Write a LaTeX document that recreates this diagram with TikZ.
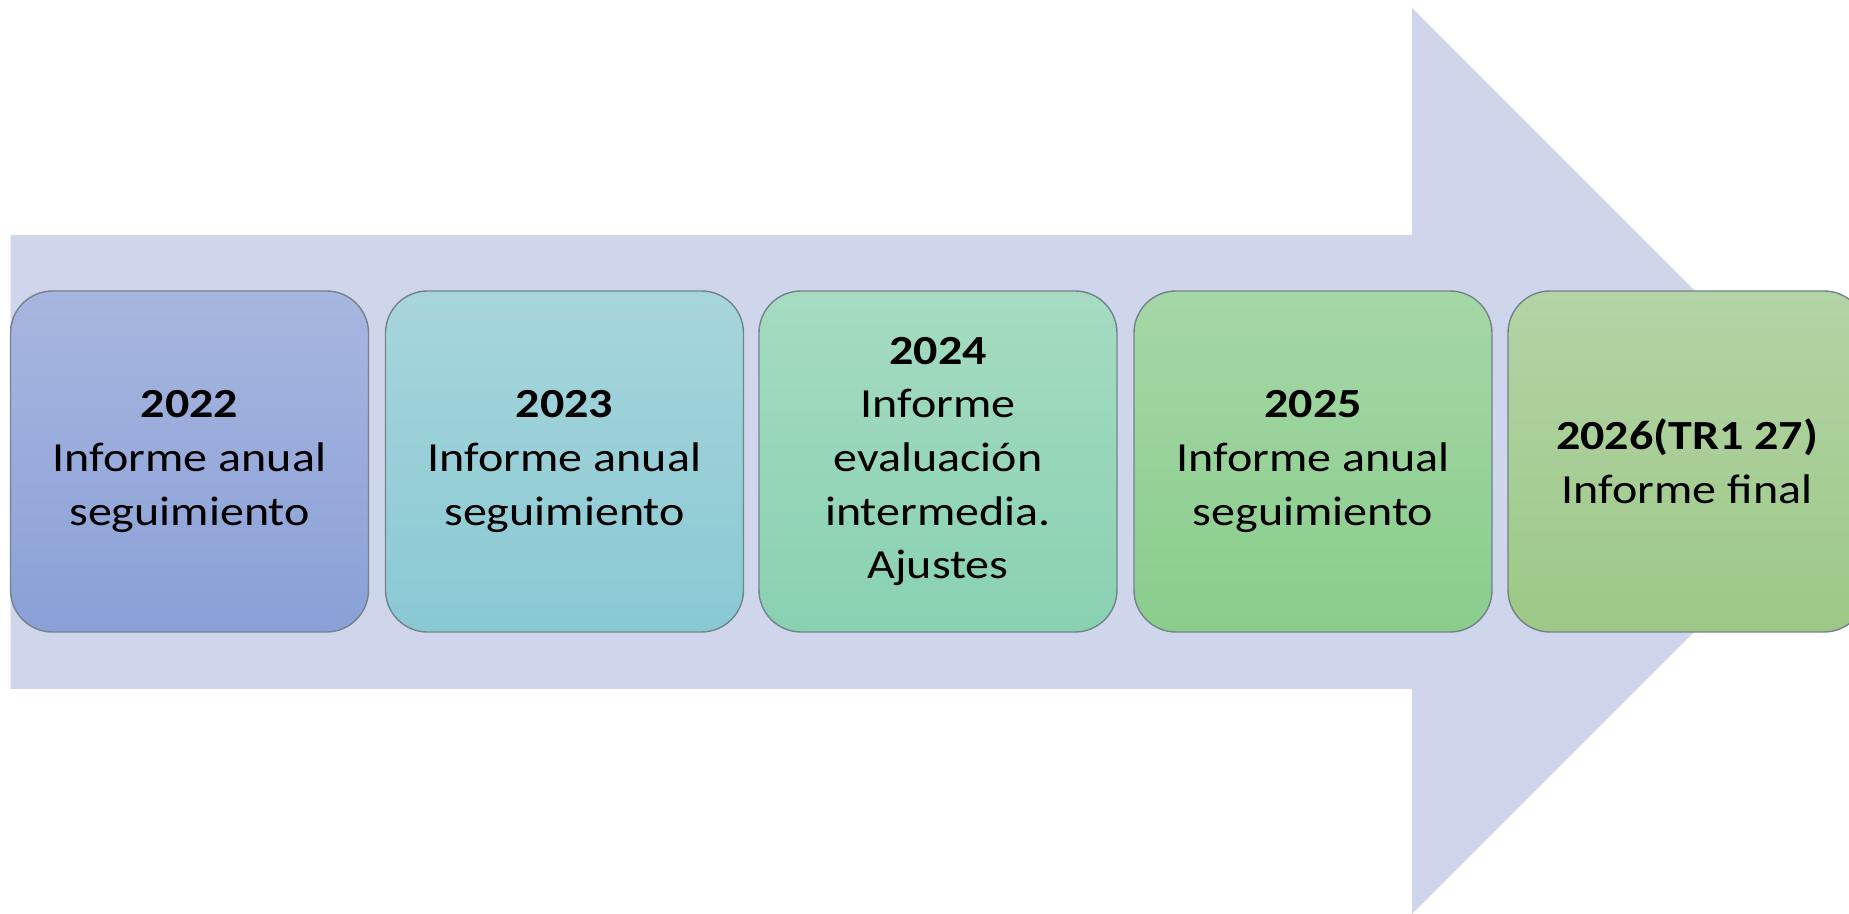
\documentclass[tikz,border=0pt]{standalone}
\usepackage{fontspec}
\setmainfont{Carlito}[FakeStretch=1.16]
\definecolor{arrowfill}{HTML}{CFD5EA}
\definecolor{boxline}{HTML}{72838A}
\definecolor{aTop}{HTML}{A7B6DF}\definecolor{aBot}{HTML}{8AA0D7}
\definecolor{bTop}{HTML}{A7D5DC}\definecolor{bBot}{HTML}{89C9D3}
\definecolor{cTop}{HTML}{A6DBC1}\definecolor{cBot}{HTML}{88D1B1}
\definecolor{dTop}{HTML}{A5D7A6}\definecolor{dBot}{HTML}{89CD8C}
\definecolor{eTop}{HTML}{B3D4A6}\definecolor{eBot}{HTML}{9DC886}
\begin{document}
\begin{tikzpicture}[x=0.5pt,y=-0.5pt,
  stage/.style={draw=boxline, line width=0.7pt, rounded corners=21pt,
    minimum width=179pt, minimum height=170.5pt, inner sep=0pt,
    align=center, text=black, font=\fontsize{20.7}{26.8}\selectfont}]
\path[use as bounding box] (0,0) rectangle (1849,914);
\begin{scope}
\clip (0,0) rectangle (1849,914);
% broad timeline arrow
\fill[arrowfill] (10.5,235) -- (1412,235) -- (1412,8) -- (1865,461)
  -- (1412,914) -- (1412,689) -- (10.5,689) -- cycle;
% yearly milestones
\node[stage, top color=aTop, bottom color=aBot] (y22) at (189.5,461.5)
  {\textbf{2022}\\Informe anual\\seguimiento};
\node[stage, top color=bTop, bottom color=bBot] (y23) at (564.5,461.5)
  {\textbf{2023}\\Informe anual\\seguimiento};
\node[stage, top color=cTop, bottom color=cBot] (y24) at (938,461.5)
  {\textbf{2024}\\Informe\\evaluación\\intermedia.\\Ajustes};
\node[stage, top color=dTop, bottom color=dBot] (y25) at (1313,461.5)
  {\textbf{2025}\\Informe anual\\seguimiento};
\node[stage, top color=eTop, bottom color=eBot] (y26) at (1687,461.5)
  {\textbf{2026(TR1 27)}\\Informe final};
\end{scope}
\end{tikzpicture}
\end{document}
